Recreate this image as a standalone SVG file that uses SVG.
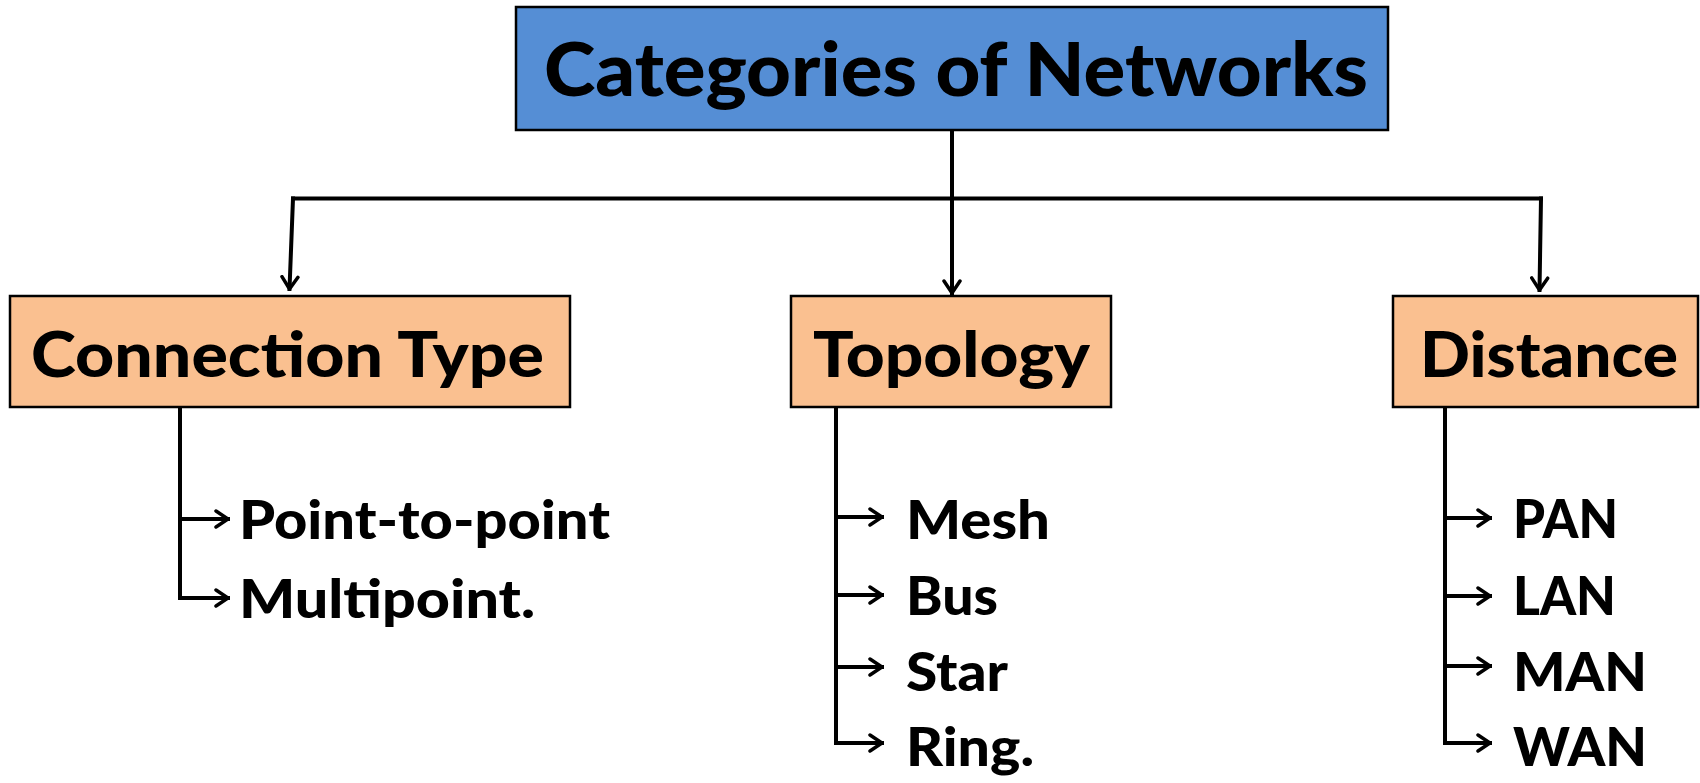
<svg xmlns="http://www.w3.org/2000/svg" width="1700" height="783" viewBox="0 0 1700 783">
  <style>
    .title { fill: #558ED5; stroke: #000; stroke-width: 2.5; }
    .cat { fill: #FAC090; stroke: #000; stroke-width: 2.5; }
    .lbl { font-family: Lato, "Open Sans", "Liberation Sans", sans-serif; font-weight: 900; fill: #000; }
    .wire { fill: none; stroke: #000; stroke-width: 4; stroke-linecap: square; }
  </style>
  <defs>
    <marker id="head" viewBox="0 0 16 20" refX="14" refY="10" markerWidth="16" markerHeight="20" markerUnits="userSpaceOnUse" orient="auto">
      <path d="M2,2 L14,10 L2,18" fill="none" stroke="#000" stroke-width="3.5" stroke-linecap="round" stroke-linejoin="miter"/>
    </marker>
  </defs>

  <!-- root -->
  <g id="root">
    <rect class="title" x="516" y="7" width="872" height="123"/>
    <text class="lbl" x="544" y="96" font-size="74" textLength="824" lengthAdjust="spacingAndGlyphs">Categories of Networks</text>
  </g>

  <!-- category boxes -->
  <g id="connection-type">
    <rect class="cat" x="10" y="296" width="560" height="111"/>
    <text class="lbl" x="31" y="377" font-size="63" textLength="513" lengthAdjust="spacingAndGlyphs">Connection Type</text>
  </g>
  <g id="topology">
    <rect class="cat" x="791" y="296" width="320" height="111"/>
    <text class="lbl" x="813" y="377" font-size="63" textLength="277" lengthAdjust="spacingAndGlyphs">Topology</text>
  </g>
  <g id="distance">
    <rect class="cat" x="1393" y="296" width="305" height="111"/>
    <text class="lbl" x="1420" y="377" font-size="63" textLength="258" lengthAdjust="spacingAndGlyphs">Distance</text>
  </g>

  <!-- leaf items -->
  <g id="point-to-point"><text class="lbl" x="239" y="539" font-size="53" textLength="371" lengthAdjust="spacingAndGlyphs">Point-to-point</text></g>
  <g id="multipoint"><text class="lbl" x="239" y="618" font-size="53" textLength="296" lengthAdjust="spacingAndGlyphs">Multipoint.</text></g>

  <g id="mesh"><text class="lbl" x="906" y="539" font-size="53" textLength="144" lengthAdjust="spacingAndGlyphs">Mesh</text></g>
  <g id="bus"><text class="lbl" x="906" y="615" font-size="53" textLength="92" lengthAdjust="spacingAndGlyphs">Bus</text></g>
  <g id="star"><text class="lbl" x="906" y="691" font-size="53" textLength="102" lengthAdjust="spacingAndGlyphs">Star</text></g>
  <g id="ring"><text class="lbl" x="906" y="766" font-size="53" textLength="128" lengthAdjust="spacingAndGlyphs">Ring.</text></g>

  <g id="pan"><text class="lbl" x="1513" y="538" font-size="53" textLength="105" lengthAdjust="spacingAndGlyphs">PAN</text></g>
  <g id="lan"><text class="lbl" x="1513" y="615" font-size="53" textLength="103" lengthAdjust="spacingAndGlyphs">LAN</text></g>
  <g id="man"><text class="lbl" x="1513" y="691" font-size="53" textLength="134" lengthAdjust="spacingAndGlyphs">MAN</text></g>
  <g id="wan"><text class="lbl" x="1513" y="766" font-size="53" textLength="134" lengthAdjust="spacingAndGlyphs">WAN</text></g>

  <!-- connectors -->
  <g id="connectors">
    <path class="wire" d="M293,198.5 L1541,198.5"/>
    <path class="wire" d="M952,131 L952,293" marker-end="url(#head)"/>
    <path class="wire" d="M293,198.5 L289.5,289" marker-end="url(#head)"/>
    <path class="wire" d="M1541,198.5 L1539.5,290" marker-end="url(#head)"/>

    <path class="wire" d="M180,408 L180,598"/>
    <path class="wire" d="M180,519 L228,519" marker-end="url(#head)"/>
    <path class="wire" d="M180,598 L228,598" marker-end="url(#head)"/>

    <path class="wire" d="M836,408 L836,743"/>
    <path class="wire" d="M836,517 L882,517" marker-end="url(#head)"/>
    <path class="wire" d="M836,595 L882,595" marker-end="url(#head)"/>
    <path class="wire" d="M836,667 L882,667" marker-end="url(#head)"/>
    <path class="wire" d="M836,743 L882,743" marker-end="url(#head)"/>

    <path class="wire" d="M1445,408 L1445,743"/>
    <path class="wire" d="M1445,518 L1490,518" marker-end="url(#head)"/>
    <path class="wire" d="M1445,596 L1490,596" marker-end="url(#head)"/>
    <path class="wire" d="M1445,666 L1490,666" marker-end="url(#head)"/>
    <path class="wire" d="M1445,743 L1490,743" marker-end="url(#head)"/>
  </g>
</svg>
